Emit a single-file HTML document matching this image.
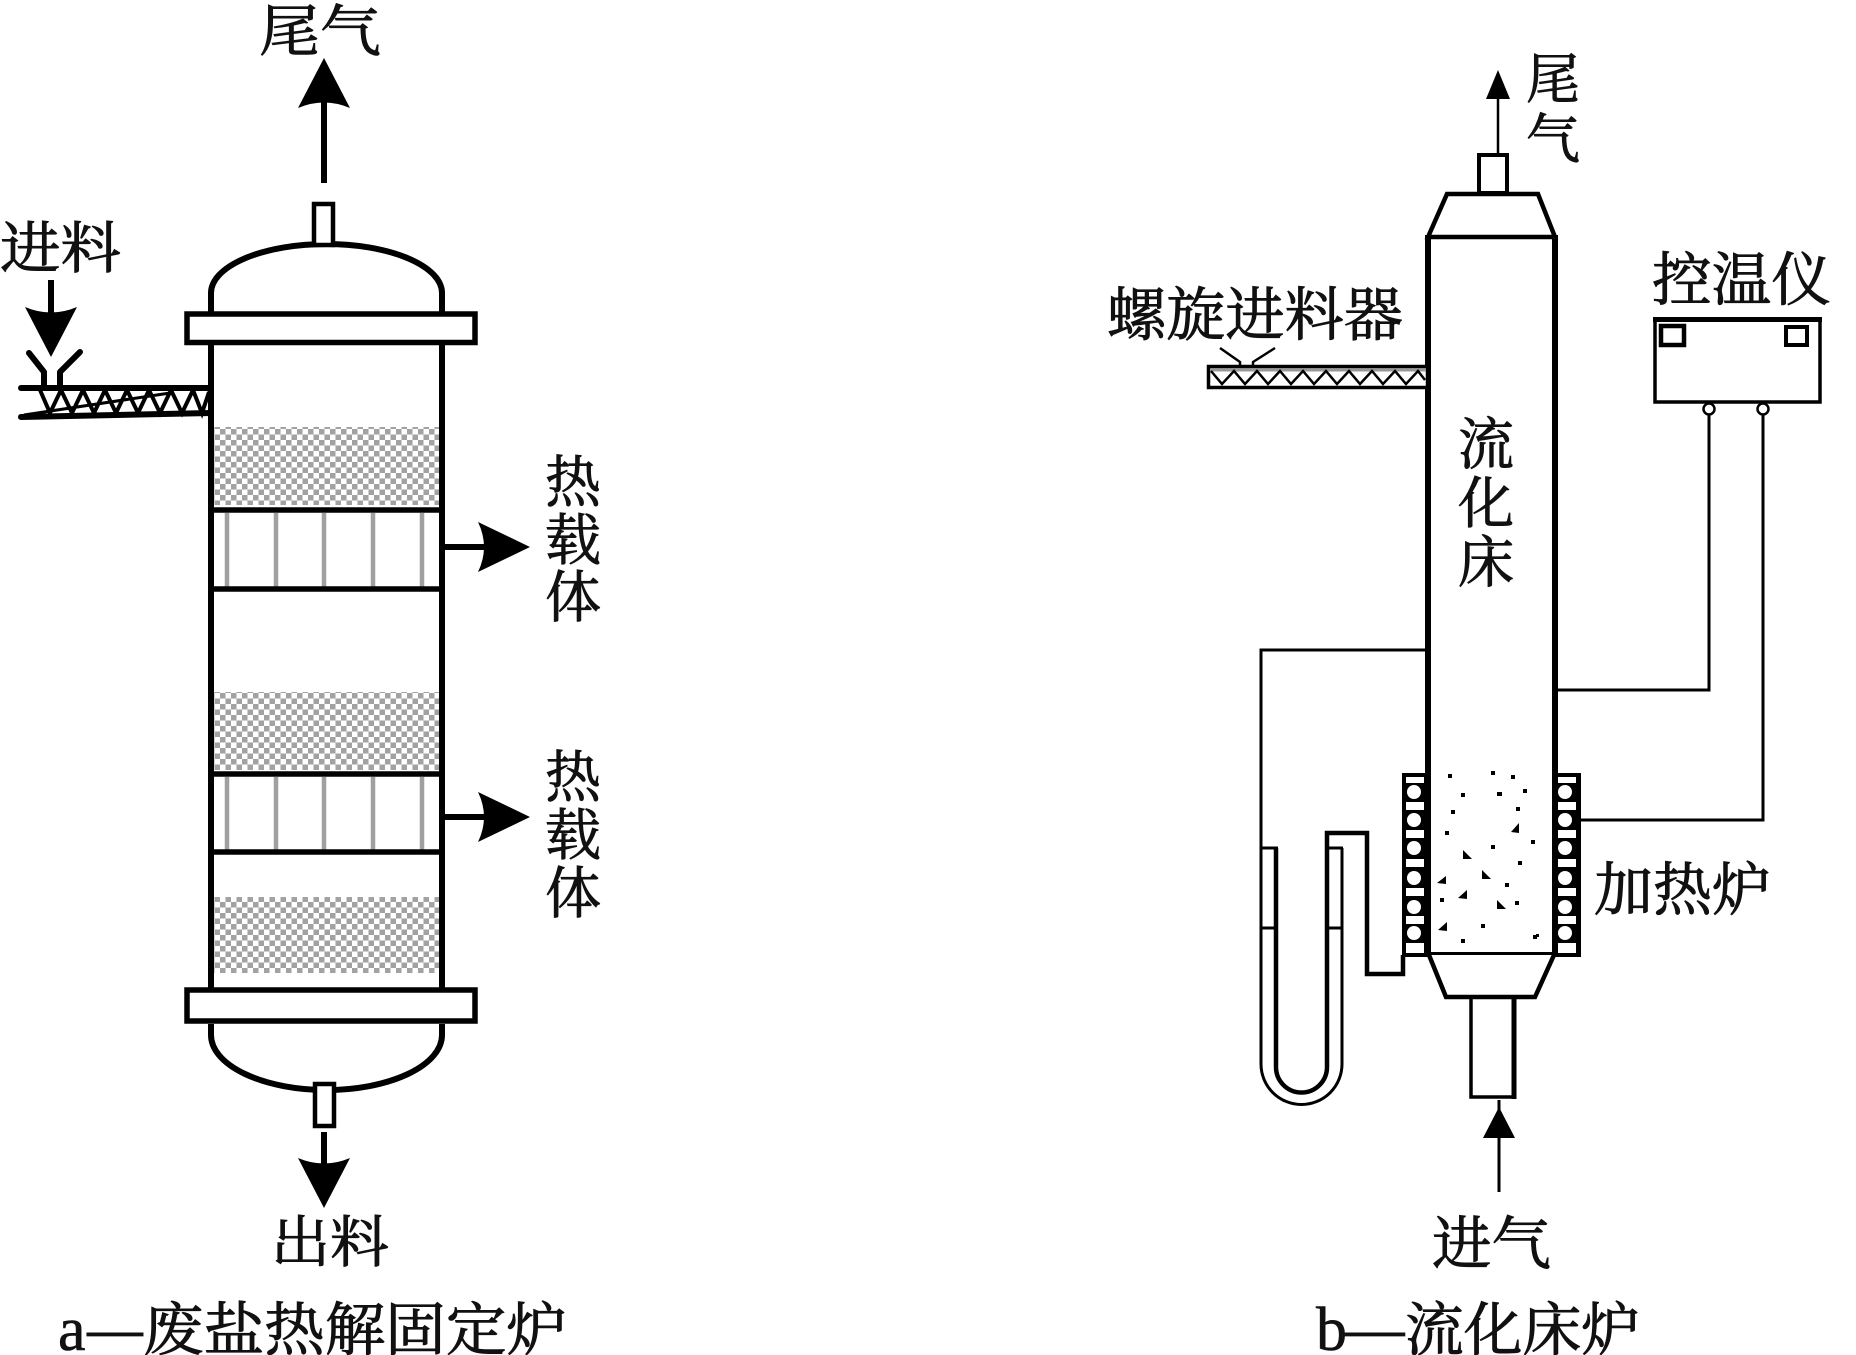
<!DOCTYPE html>
<html><head><meta charset="utf-8"><style>
html,body{margin:0;padding:0;background:#fff;}
svg{display:block;}
text{font-family:"Noto Serif CJK SC","Liberation Serif",serif;fill:#111;stroke:#111;stroke-width:0.9px;}
.lat{font-family:"Liberation Serif","Noto Serif CJK SC",serif;stroke-width:0.6px;}
</style></head><body>
<svg width="1856" height="1355" viewBox="0 0 1856 1355" xmlns="http://www.w3.org/2000/svg">
<defs>
<pattern id="chk" width="11" height="11" patternUnits="userSpaceOnUse">
<rect width="11" height="11" fill="#fff"/>
<rect width="5.5" height="5.5" fill="#a2a2a2"/>
<rect x="5.5" y="5.5" width="5.5" height="5.5" fill="#a2a2a2"/>
</pattern>
</defs>
<rect width="1856" height="1355" fill="#fff"/>

<!-- ================= FIGURE A ================= -->
<g stroke="#000" fill="none">
  <path d="M211,313 L211,293 A115.5,49 0 0 1 442,293 L442,313" stroke-width="6" fill="#fff"/>
  <rect x="314" y="204" width="19" height="41" stroke-width="4.5" fill="#fff"/>
  <rect x="187" y="314" width="288" height="28.5" stroke-width="5.5" fill="#fff"/>
  <rect x="214" y="427" width="225" height="78" fill="url(#chk)" stroke="none"/>
  <rect x="214" y="692" width="225" height="78" fill="url(#chk)" stroke="none"/>
  <rect x="214" y="897" width="225" height="76" fill="url(#chk)" stroke="none"/>
  <g stroke="#a0a0a0" stroke-width="4.5">
    <line x1="227" y1="513" x2="227" y2="587"/><line x1="276" y1="513" x2="276" y2="587"/>
    <line x1="324" y1="513" x2="324" y2="587"/><line x1="373" y1="513" x2="373" y2="587"/>
    <line x1="422" y1="513" x2="422" y2="587"/>
    <line x1="227" y1="777" x2="227" y2="850"/><line x1="276" y1="777" x2="276" y2="850"/>
    <line x1="324" y1="777" x2="324" y2="850"/><line x1="373" y1="777" x2="373" y2="850"/>
    <line x1="422" y1="777" x2="422" y2="850"/>
  </g>
  <g stroke-width="5.5">
    <line x1="211" y1="510" x2="442" y2="510"/><line x1="211" y1="589" x2="442" y2="589"/>
    <line x1="211" y1="774" x2="442" y2="774"/><line x1="211" y1="852" x2="442" y2="852"/>
  </g>
  <line x1="211" y1="342" x2="211" y2="990" stroke-width="6"/>
  <line x1="442" y1="342" x2="442" y2="990" stroke-width="6"/>
  <rect x="187" y="990" width="288" height="31" stroke-width="5.5" fill="#fff"/>
  <path d="M211,1024 L211,1035 A115.5,55 0 0 0 442,1035 L442,1024" stroke-width="6" fill="#fff"/>
  <rect x="315" y="1084" width="19" height="42" stroke-width="4.5" fill="#fff"/>
  <line x1="324" y1="183" x2="324" y2="102" stroke-width="6"/>
  <line x1="51" y1="280" x2="51" y2="315" stroke-width="6"/>
  <line x1="324" y1="1132" x2="324" y2="1165" stroke-width="6"/>
  <line x1="442" y1="547" x2="486" y2="547" stroke-width="6"/>
  <line x1="442" y1="817" x2="486" y2="817" stroke-width="6"/>
  <line x1="21" y1="388" x2="211" y2="388" stroke-width="6" stroke-linecap="round"/>
  <line x1="21" y1="417" x2="211" y2="413" stroke-width="6" stroke-linecap="round"/>
  <polyline points="40,390 50,413 61,390 72,413 83,390 94,413 105,390 116,413 127,390 138,413 149,390 160,413 171,390 182,413 193,390 202,413 209,392" stroke-width="4"/>
  <line x1="24" y1="415" x2="170" y2="393" stroke-width="3"/>
  <path d="M29,353 L44,372 L44,387 M80,352 L60,372 L60,387" stroke-width="6" stroke-linecap="round" stroke-linejoin="round"/>
</g>
<g fill="#000">
  <path d="M324,58 L350,108 Q324,97 298,108 Z"/>
  <path d="M51,357 L77,307 Q51,318 25,307 Z"/>
  <path d="M324,1208 L350,1158 Q324,1169 298,1158 Z"/>
  <path d="M530,547 L478,522 Q490,547 478,572 Z"/>
  <path d="M530,817 L478,792 Q490,817 478,842 Z"/>
</g>

<text x="259" y="51" font-size="56" textLength="122" lengthAdjust="spacingAndGlyphs">尾气</text>
<text x="0" y="268" font-size="56" textLength="121" lengthAdjust="spacingAndGlyphs">进料</text>
<g font-size="56" text-anchor="middle">
  <text x="573" y="502">热</text><text x="573" y="560">载</text><text x="573" y="617">体</text>
  <text x="573" y="797">热</text><text x="573" y="855">载</text><text x="573" y="913">体</text>
</g>
<text x="271" y="1262" font-size="56" textLength="118" lengthAdjust="spacingAndGlyphs">出料</text>
<text class="lat" x="58" y="1350" font-size="62">a</text>
<text x="84" y="1350" font-size="58" textLength="62" lengthAdjust="spacingAndGlyphs">—</text>
<text x="143" y="1350" font-size="58" textLength="424" lengthAdjust="spacingAndGlyphs">废盐热解固定炉</text>

<!-- ================= FIGURE B ================= -->
<g stroke="#000" fill="none">
  <rect x="1479" y="155" width="28" height="38" stroke-width="4" fill="#fff"/>
  <path d="M1428,237 L1447,194 L1538,194 L1555,237 Z" stroke-width="4.5" fill="#fff"/>
  <line x1="1498" y1="153" x2="1498" y2="95" stroke-width="2.5"/>
  <line x1="1428" y1="235" x2="1428" y2="957" stroke-width="6"/>
  <line x1="1555" y1="235" x2="1555" y2="957" stroke-width="6"/>
  <line x1="1428" y1="954" x2="1555" y2="954" stroke-width="4"/>
  <path d="M1429,955 L1446,997 L1535,997 L1554,955" stroke-width="4.5" fill="#fff"/>
  <path d="M1471,997 L1471,1097 L1515,1097" stroke-width="3.5"/>
  <line x1="1514" y1="997" x2="1514" y2="1099" stroke-width="5"/>
  <line x1="1499" y1="1100" x2="1499" y2="1192" stroke-width="3"/>
  <rect x="1208.5" y="366.5" width="219" height="21" stroke-width="3.5" fill="#fff"/>
  <line x1="1210" y1="370" x2="1426" y2="370" stroke="#999" stroke-width="3"/>
  <polyline points="1211,371 1222,384 1234,371 1245,384 1257,371 1268,384 1280,371 1291,384 1303,371 1314,384 1326,371 1337,384 1349,371 1360,384 1372,371 1383,384 1395,371 1406,384 1418,371 1425,380" stroke-width="2.5"/>
  <path d="M1220,348 L1240,362 L1240,368 M1275,348 L1253,362 L1253,368" stroke-width="2.5"/>
  <rect x="1655" y="319" width="165" height="83" stroke-width="3.5" fill="#fff"/>
  <line x1="1653" y1="319.5" x2="1822" y2="319.5" stroke-width="5"/>
  <rect x="1661" y="326" width="23" height="19" stroke-width="4.5" fill="#fff"/>
  <rect x="1786" y="327" width="21" height="18" stroke-width="4" fill="#fff"/>
  <path d="M1709,414 L1709,690 L1556,690" stroke-width="3"/>
  <path d="M1763,414 L1763,820 L1580,820" stroke-width="3"/>
  <circle cx="1709" cy="409" r="5.5" stroke-width="2.5" fill="#fff"/>
  <circle cx="1763" cy="409" r="5.5" stroke-width="2.5" fill="#fff"/>
  <path d="M1428,650 L1261,650 L1261,1064 A40.5,40.5 0 0 0 1342,1064 L1342,848" stroke-width="3"/>
  <path d="M1276,848 L1276,1067 A25.5,25.5 0 0 0 1327,1067 L1327,833 L1367,833 L1367,974 L1403,974 L1403,955" stroke-width="4.5"/>
  <line x1="1261" y1="848" x2="1278" y2="848" stroke-width="3"/>
  <line x1="1325" y1="848" x2="1343" y2="848" stroke-width="3"/>
  <line x1="1261" y1="928" x2="1278" y2="928" stroke-width="3"/>
  <line x1="1325" y1="928" x2="1343" y2="928" stroke-width="3"/>
</g>
<g>
  <rect x="1402" y="773" width="26" height="184" fill="#000"/>
  <rect x="1554" y="773" width="27" height="184" fill="#000"/>
  <g fill="#fff">
    <rect x="1406" y="777" width="18" height="6"/><rect x="1406" y="802" width="18" height="8"/>
    <rect x="1406" y="830" width="18" height="8"/><rect x="1406" y="859" width="18" height="8"/>
    <rect x="1406" y="888" width="18" height="8"/><rect x="1406" y="916" width="18" height="8"/>
    <rect x="1406" y="943" width="18" height="10"/>
    <circle cx="1414" cy="792" r="7"/><circle cx="1414" cy="820" r="7"/>
    <circle cx="1414" cy="848" r="7"/><circle cx="1414" cy="878" r="7"/>
    <circle cx="1414" cy="907" r="7"/><circle cx="1414" cy="933" r="7"/>
    <rect x="1558" y="777" width="18" height="6"/><rect x="1558" y="802" width="18" height="8"/>
    <rect x="1558" y="830" width="18" height="8"/><rect x="1558" y="859" width="18" height="8"/>
    <rect x="1558" y="888" width="18" height="8"/><rect x="1558" y="916" width="18" height="8"/>
    <rect x="1558" y="943" width="18" height="10"/>
    <circle cx="1565" cy="792" r="7"/><circle cx="1565" cy="820" r="7"/>
    <circle cx="1565" cy="848" r="7"/><circle cx="1565" cy="878" r="7"/>
    <circle cx="1565" cy="907" r="7"/><circle cx="1565" cy="933" r="7"/>
  </g>
</g>
<g fill="#000">
  <rect x="1448" y="774" width="4" height="4"/><rect x="1491" y="771" width="4" height="4"/>
  <rect x="1511" y="775" width="4" height="4"/><rect x="1523" y="789" width="4" height="4"/>
  <rect x="1461" y="793" width="4" height="4"/><rect x="1497" y="792" width="5" height="4"/>
  <rect x="1451" y="810" width="4" height="4"/><rect x="1516" y="807" width="4" height="4"/>
  <rect x="1445" y="831" width="4" height="4"/><rect x="1531" y="840" width="4" height="4"/>
  <rect x="1491" y="845" width="4" height="4"/><rect x="1518" y="861" width="4" height="4"/>
  <rect x="1505" y="883" width="4" height="4"/><rect x="1440" y="898" width="4" height="4"/>
  <rect x="1515" y="901" width="4" height="4"/><rect x="1481" y="924" width="4" height="4"/>
  <rect x="1461" y="939" width="4" height="4"/><rect x="1533" y="935" width="4" height="4"/>
  <rect x="1536" y="934" width="3" height="3"/>
  <path d="M1511,832 L1519,823 L1519,833 Z"/>
  <path d="M1463,850 L1463,859 L1472,859 Z"/>
  <path d="M1437,883 L1446,876 L1446,884 Z"/>
  <path d="M1482,870 L1482,879 L1491,879 Z"/>
  <path d="M1458,898 L1467,890 L1467,899 Z"/>
  <path d="M1497,900 L1497,909 L1506,909 Z"/>
  <path d="M1438,930 L1447,922 L1447,931 Z"/>
</g>
<g fill="#000">
  <path d="M1498,70 L1510,99 L1486,99 Z"/>
  <path d="M1499,1107 L1515,1138 L1483,1138 Z"/>
</g>

<g font-size="54" text-anchor="middle">
  <text x="1553" y="98">尾</text><text x="1553" y="158">气</text>
</g>
<text x="1107" y="335" font-size="58" textLength="296" lengthAdjust="spacingAndGlyphs">螺旋进料器</text>
<text x="1652" y="300" font-size="58" textLength="179" lengthAdjust="spacingAndGlyphs">控温仪</text>
<g font-size="56" text-anchor="middle">
  <text x="1486" y="464">流</text><text x="1486" y="523">化</text><text x="1486" y="582">床</text>
</g>
<text x="1594" y="910" font-size="58" textLength="177" lengthAdjust="spacingAndGlyphs">加热炉</text>
<text x="1432" y="1264" font-size="58" textLength="119" lengthAdjust="spacingAndGlyphs">进气</text>
<text class="lat" x="1316" y="1350" font-size="62">b</text>
<text x="1342" y="1350" font-size="58" textLength="66" lengthAdjust="spacingAndGlyphs">—</text>
<text x="1405" y="1350" font-size="58" textLength="235" lengthAdjust="spacingAndGlyphs">流化床炉</text>
</svg>
</body></html>
